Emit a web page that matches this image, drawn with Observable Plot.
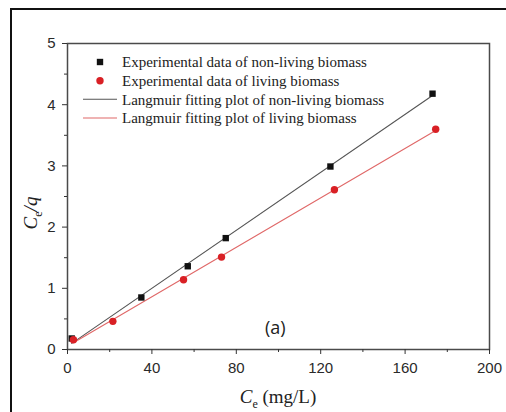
<!DOCTYPE html>
<html><head><meta charset="utf-8">
<script src="https://cdn.jsdelivr.net/npm/d3@7"></script>
<script src="https://cdn.jsdelivr.net/npm/@observablehq/plot@0.6"></script>
<style>
body{margin:0;background:#fff;}
#wrap{position:relative;width:506px;height:412px;overflow:hidden;}
#wrap svg{position:absolute;left:0;top:0;}
#frame{position:absolute;left:10px;top:8px;width:600px;height:600px;border-left:2px solid #111;border-top:2px solid #111;pointer-events:none;}
</style></head><body><div id="wrap"><div id="frame"></div></div>
<script>
// data
const nonLivingCe = [2, 35, 57, 75, 124.6, 173];
const nonLivingCq = [0.18, 0.85, 1.36, 1.82, 2.99, 4.18];
const livingCe = [2.8, 21.5, 55, 73, 126.5, 174.5];
const livingCq = [0.16, 0.46, 1.14, 1.51, 2.61, 3.6];
const fitNonLivingCe = [2, 173];
const fitNonLivingCq = [0.1, 4.15];
const fitLivingCe = [2.8, 174.5];
const fitLivingCq = [0.11, 3.58];
const xTicks = [0, 40, 80, 120, 160, 200];
const xMinor = [20, 60, 100, 140, 180];
const yTicks = [0, 1, 2, 3, 4, 5];
const yMinor = [0.5, 1.5, 2.5, 3.5, 4.5];
const legendLabels = [
  "Experimental data of non-living biomass",
  "Experimental data of living biomass",
  "Langmuir fitting plot of non-living biomass",
  "Langmuir fitting plot of living biomass"
];
const panelLabel = ["(a)"];
const panelPos = {x: [98.5], y: [0.34]};

const black = "#111", red = "#d92025", blackLine = "#555", redLine = "#e06868";

const nonLiving = nonLivingCe.map((x, i) => ({x, y: nonLivingCq[i]}));
const living = livingCe.map((x, i) => ({x, y: livingCq[i]}));
const fitNL = fitNonLivingCe.map((x, i) => ({x, y: fitNonLivingCq[i]}));
const fitL = fitLivingCe.map((x, i) => ({x, y: fitLivingCq[i]}));

const plot = Plot.plot({
  width: 506, height: 412,
  marginLeft: 67, marginRight: 17, marginTop: 43, marginBottom: 63,
  style: {fontFamily: "'Liberation Sans', Arial, sans-serif", fontSize: "15px", color: "#2a2a2a", background: "transparent"},
  x: {domain: [0, 200]},
  y: {domain: [0, 5]},
  marks: [
    Plot.line(fitNL, {x: "x", y: "y", stroke: blackLine, strokeWidth: 1.1}),
    Plot.line(fitL, {x: "x", y: "y", stroke: redLine, strokeWidth: 1.1}),
    Plot.dot(nonLiving, {x: "x", y: "y", symbol: "square", fill: black, r: 3.6}),
    Plot.dot(living, {x: "x", y: "y", symbol: "circle", fill: red, r: 3.7}),
    Plot.text(panelLabel, {x: panelPos.x, y: panelPos.y, text: d => d, fontFamily: "'Open Sans', sans-serif", fontSize: 18, fill: "#222"}),
    Plot.frame({stroke: "#4a4a4a", strokeWidth: 1.5}),
    Plot.axisX({ticks: xTicks, tickFormat: d3.format("d"), tickSize: 5, tickPadding: 8, label: null, stroke: "#333"}),
    Plot.axisX({ticks: xMinor, tickSize: 3, text: null, label: null, stroke: "#333"}),
    Plot.axisY({ticks: yTicks, tickFormat: d3.format("d"), tickSize: 5, tickPadding: 7, label: null, stroke: "#333"}),
    Plot.axisY({ticks: yMinor, tickSize: 3, text: null, label: null, stroke: "#333"})
  ]
});
document.getElementById("wrap").prepend(plot);

const svg = d3.select(plot);
const serif = "'Liberation Serif', 'Times New Roman', serif";

// x axis label
const xl = svg.append("text").attr("x", 278).attr("y", 403).attr("text-anchor", "middle")
  .attr("font-family", serif).attr("font-size", 19).attr("fill", "#222");
xl.append("tspan").attr("font-style", "italic").text("C");
xl.append("tspan").attr("font-size", 12).attr("dy", 5).text("e");
xl.append("tspan").attr("dy", -5).text(" (mg/L)");

// y axis label
const yl = svg.append("text").attr("transform", "translate(37,213) rotate(-90)").attr("text-anchor", "middle")
  .attr("font-family", serif).attr("font-size", 19).attr("fill", "#222");
yl.append("tspan").attr("font-style", "italic").text("C");
yl.append("tspan").attr("font-size", 12).attr("dy", 5).text("e");
yl.append("tspan").attr("dy", -5).attr("font-style", "italic").text("/q");

// legend
const lg = svg.append("g").attr("font-family", serif).attr("font-size", 15).attr("fill", "#222").attr("text-anchor", "start");
const rowY = [62, 80.7, 99.3, 118];
legendLabels.forEach((t, i) => {
  const y = rowY[i];
  if (i === 0) lg.append("path").attr("d", d3.symbol(d3.symbolSquare, Math.PI * 3.6 * 3.6)()).attr("transform", `translate(100,${y})`).attr("fill", black);
  if (i === 1) lg.append("circle").attr("cx", 100).attr("cy", y).attr("r", 3.7).attr("fill", red);
  if (i === 2) lg.append("line").attr("x1", 83).attr("x2", 117).attr("y1", y).attr("y2", y).attr("stroke", blackLine).attr("stroke-width", 1.1);
  if (i === 3) lg.append("line").attr("x1", 83).attr("x2", 117).attr("y1", y).attr("y2", y).attr("stroke", redLine).attr("stroke-width", 1.1);
  lg.append("text").attr("x", 122).attr("y", y).attr("dy", "0.35em").attr("text-anchor", "start").text(t);
});
</script></body></html>
